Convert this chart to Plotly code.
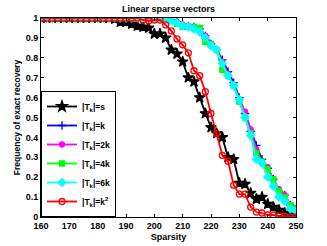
import plotly.graph_objects as go

sparsity = list(range(160, 251, 2))

# |T_k| = s
freq_s = [1.0]*13 + [0.995, 0.98, 0.98, 0.97, 0.96, 0.955, 0.95, 0.92, 0.92, 0.90, 0.84, 0.82, 0.78,
          0.70, 0.68, 0.60, 0.52, 0.45, 0.42, 0.40, 0.30, 0.29, 0.17, 0.165, 0.12, 0.09, 0.10,
          0.065, 0.05, 0.035, 0.02, 0.01, 0.01]
# |T_k| = k
freq_k = [1.0]*22 + [0.995, 0.99, 0.98, 0.965, 0.96, 0.955, 0.945, 0.91, 0.87, 0.84, 0.79, 0.73,
          0.675, 0.60, 0.52, 0.43, 0.36, 0.29, 0.245, 0.19, 0.13, 0.11, 0.06, 0.04]
# |T_k| = 2k
freq_2k = [1.0]*22 + [0.995, 0.99, 0.98, 0.965, 0.96, 0.955, 0.945, 0.91, 0.87, 0.84, 0.78, 0.72,
           0.66, 0.59, 0.53, 0.44, 0.34, 0.28, 0.25, 0.19, 0.14, 0.11, 0.06, 0.04]
# |T_k| = 4k
freq_4k = [1.0]*22 + [0.995, 0.99, 0.97, 0.955, 0.955, 0.955, 0.95, 0.88, 0.87, 0.84, 0.74, 0.71,
           0.66, 0.58, 0.50, 0.42, 0.32, 0.28, 0.24, 0.19, 0.13, 0.10, 0.06, 0.04]
# |T_k| = 6k
freq_6k = [1.0]*22 + [0.99, 0.985, 0.975, 0.96, 0.955, 0.945, 0.93, 0.90, 0.86, 0.84, 0.77, 0.71,
           0.66, 0.59, 0.50, 0.41, 0.29, 0.27, 0.20, 0.155, 0.10, 0.08, 0.04, 0.03]
# |T_k| = k^2
freq_k2 = [1.0]*18 + [0.99, 0.985, 0.99, 0.99, 0.965, 0.935, 0.895, 0.865, 0.825, 0.735, 0.71, 0.63,
           0.52, 0.42, 0.31, 0.28, 0.16, 0.115, 0.115, 0.05, 0.025, 0.02, 0.01, 0.01, 0.005,
           0.005, 0.0, 0.0]

series = [
    ("|T<sub>k</sub>|=s", freq_s, "black", "star", 8, "black"),
    ("|T<sub>k</sub>|=k", freq_k, "blue", "cross-thin", 6, "blue"),
    ("|T<sub>k</sub>|=2k", freq_2k, "magenta", "circle", 5, "magenta"),
    ("|T<sub>k</sub>|=4k", freq_4k, "#00ff00", "square", 5, "#00ff00"),
    ("|T<sub>k</sub>|=6k", freq_6k, "cyan", "diamond", 6, "cyan"),
    ("|T<sub>k</sub>|=k<sup>2</sup>", freq_k2, "red", "circle-open", 6, "red"),
]

fig = go.Figure()
for name, y, color, sym, size, mcol in series:
    fig.add_trace(go.Scatter(
        x=sparsity, y=y, name=name, mode="lines+markers",
        line=dict(color=color, width=1.8),
        marker=dict(symbol=sym, size=size, color=mcol,
                    line=dict(color=mcol, width=1.3)),
    ))

font_family = "Liberation Sans, Arial, sans-serif"
fig.update_layout(
    width=327, height=246,
    margin=dict(l=41, r=31, t=18, b=29),
    paper_bgcolor="white", plot_bgcolor="white",
    font=dict(family=font_family, size=9, color="black", weight="bold"),
    title=dict(text="<b>Linear sparse vectors</b>", x=0.5, xref="paper", xanchor="center",
               y=1, yref="paper", yanchor="bottom", pad=dict(b=6),
               font=dict(size=9, family=font_family)),
    showlegend=True,
    legend=dict(x=0, y=0, xanchor="left", yanchor="bottom", bgcolor="white",
                bordercolor="black", borderwidth=1, itemwidth=30,
                font=dict(size=8.5, family=font_family, weight="bold"),
                tracegroupgap=0),
    xaxis=dict(range=[160, 250], tickvals=list(range(160, 251, 10)),
               ticks="inside", ticklen=3, tickcolor="black",
               showline=True, linecolor="black", linewidth=1, mirror="ticks",
               showgrid=False, zeroline=False, automargin=False,
               title=dict(text="<b>Sparsity</b>", standoff=3, font=dict(size=9)),
               tickfont=dict(size=9, weight="bold")),
    yaxis=dict(range=[0, 1], tickvals=[0, 0.1, 0.2, 0.3, 0.4, 0.5, 0.6, 0.7, 0.8, 0.9, 1],
               ticktext=["0", "0.1", "0.2", "0.3", "0.4", "0.5", "0.6", "0.7", "0.8", "0.9", "1"],
               ticks="inside", ticklen=3, tickcolor="black",
               showline=True, linecolor="black", linewidth=1, mirror="ticks",
               showgrid=False, zeroline=False, automargin=False,
               title=dict(text="<b>Frequency of exact recovery</b>", standoff=3, font=dict(size=8.5)),
               tickfont=dict(size=9, weight="bold")),
)

fig.write_html("out.html", config={"displayModeBar": False},
               post_script="document.body.style.margin='0';document.body.style.padding='0';")
